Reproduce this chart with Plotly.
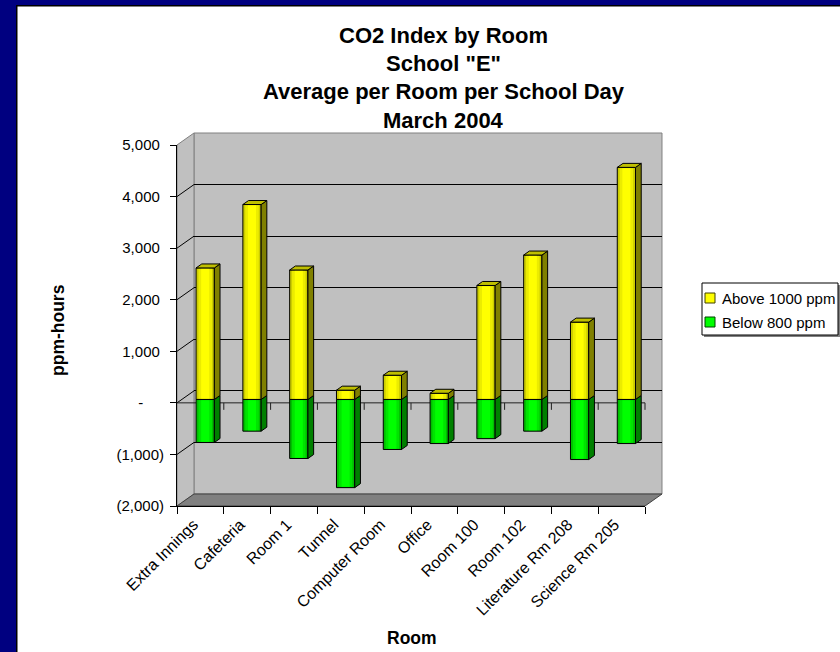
import plotly.graph_objects as go

# ---------------- data ----------------
rooms = ["Extra Innings", "Cafeteria", "Room 1", "Tunnel", "Computer Room",
         "Office", "Room 100", "Room 102", "Literature Rm 208", "Science Rm 205"]
above_1000 = [2550, 3780, 2510, 180, 470, 120, 2210, 2800, 1500, 4500]
below_800 = [-835, -615, -1145, -1710, -970, -855, -760, -615, -1165, -855]
series_names = ["Above 1000 ppm", "Below 800 ppm"]
y_tick_values = [-2000, -1000, 0, 1000, 2000, 3000, 4000, 5000]
y_tick_labels = ["(2,000)", "(1,000)", "-", "1,000", "2,000", "3,000", "4,000", "5,000"]
title_lines = ["CO2 Index by Room", 'School "E"', "Average per Room per School Day", "March 2004"]
x_title = "Room"
y_title = "ppm-hours"

# ---------------- geometry / style ----------------
W, H = 840, 652
FX0, FX1, FYT, FYB = 177, 645, 145, 506      # front plane (px)
BACK_DX, BACK_DY = 17, -12                   # back wall offset (px)
BAR_DX, BAR_DY = 4.8, -3.4                   # bar front-face offset (px)
Y_MIN, Y_MAX = -2000, 5000
FONT = "Liberation Sans, Arial, sans-serif"

YELLOW_SHADES = ["#CCCC00", "#ECEC00", "#FFFF00"]
GREEN_SHADES = ["#00BE00", "#00E400", "#00FF00"]
YELLOW_SIDE, YELLOW_TOP = "#808000", "#BFBF00"
GREEN_SIDE = "#008000"
WALL, FLOOR = "#C0C0C0", "#808080"
NAVY = "#000080"


def px(x):
    return x / W


def py(y):
    return 1 - y / H


def dom_x(d):
    return [px(FX0 + d), px(FX1 + d)]


def dom_y(d):
    return [py(FYB + d), py(FYT + d)]


def yfront(v):
    return FYB - (v - Y_MIN) / (Y_MAX - Y_MIN) * (FYB - FYT)


def path(points):
    s = "M" + " L".join(f"{px(a):.6f},{py(b):.6f}" for a, b in points) + " Z"
    return s


shapes = []
# navy slide frame (left + top)
shapes.append(dict(type="rect", xref="paper", yref="paper", x0=0, x1=px(16), y0=0, y1=1,
                   fillcolor=NAVY, line=dict(width=0), layer="above"))
shapes.append(dict(type="rect", xref="paper", yref="paper", x0=px(16), x1=px(17.5), y0=0, y1=py(5),
                   fillcolor="#000000", line=dict(width=0), layer="above"))
shapes.append(dict(type="rect", xref="paper", yref="paper", x0=0, x1=1, y0=py(5), y1=1,
                   fillcolor=NAVY, line=dict(width=0), layer="above"))
shapes.append(dict(type="rect", xref="paper", yref="paper", x0=px(16), x1=1, y0=py(6.5), y1=py(5),
                   fillcolor="#000000", line=dict(width=0), layer="above"))

# back wall
bx0, bx1 = FX0 + BACK_DX, FX1 + BACK_DX
byt, byb = FYT + BACK_DY, FYB + BACK_DY
shapes.append(dict(type="path", xref="paper", yref="paper",
                   path=path([(bx0, byt), (bx1, byt), (bx1, byb), (bx0, byb)]),
                   fillcolor=WALL, line=dict(color="#808080", width=1), layer="below"))
# side wall
shapes.append(dict(type="path", xref="paper", yref="paper",
                   path=path([(FX0, FYT), (bx0, byt), (bx0, byb), (FX0, FYB)]),
                   fillcolor=WALL, line=dict(color="#808080", width=1), layer="below"))
# floor
shapes.append(dict(type="path", xref="paper", yref="paper",
                   path=path([(FX0, FYB), (bx0, byb), (bx1, byb), (FX1, FYB)]),
                   fillcolor=FLOOR, line=dict(color="#404040", width=1), layer="below"))
# side wall gridlines
for v in y_tick_values[1:-1]:
    yf = yfront(v)
    shapes.append(dict(type="line", xref="paper", yref="paper",
                       x0=px(FX0), y0=py(yf), x1=px(bx0), y1=py(yf + BACK_DY),
                       line=dict(color="#000000", width=1), layer="below"))
# category axis line at zero with boundary ticks
y0f = yfront(0)
shapes.append(dict(type="line", xref="paper", yref="paper",
                   x0=px(FX0), y0=py(y0f), x1=px(FX1), y1=py(y0f),
                   line=dict(color="#202020", width=1), layer="below"))
step = (FX1 - FX0) / len(rooms)
for k in range(1, len(rooms) + 1):
    xx = FX0 + k * step
    shapes.append(dict(type="line", xref="paper", yref="paper",
                       x0=px(xx), y0=py(y0f), x1=px(xx), y1=py(y0f + 7),
                       line=dict(color="#202020", width=1), layer="below"))

# manual legend (box, shadow, swatches)
LX0, LY0, LX1, LY1 = 702, 283, 838, 335
shapes.append(dict(type="rect", xref="paper", yref="paper", x0=px(LX0 + 2), x1=px(LX1 + 2),
                   y0=py(LY1 + 2), y1=py(LY0 + 2), fillcolor="#808080", line=dict(width=0), layer="above"))
shapes.append(dict(type="rect", xref="paper", yref="paper", x0=px(LX0), x1=px(LX1),
                   y0=py(LY1), y1=py(LY0), fillcolor="#FFFFFF", line=dict(color="#000000", width=1),
                   layer="above"))
legend_rows = [(298, YELLOW_SHADES[2], "#404000"), (322, GREEN_SHADES[2], "#004000")]
for (yc, col, edge) in legend_rows:
    shapes.append(dict(type="rect", xref="paper", yref="paper", x0=px(705), x1=px(715),
                       y0=py(yc + 5), y1=py(yc - 5), fillcolor=col, line=dict(color=edge, width=1),
                       layer="above"))

annotations = []
title_y = [35, 63.5, 92, 120.5]
for t, yy in zip(title_lines, title_y):
    annotations.append(dict(text=t, x=px(443.7), y=py(yy), xref="paper", yref="paper",
                            xanchor="center", yanchor="middle", showarrow=False,
                            font=dict(family=FONT, size=22, color="#000000", weight="bold")))
annotations.append(dict(text=y_title, x=px(57.5), y=py(330.5), xref="paper", yref="paper",
                        xanchor="center", yanchor="middle", showarrow=False, textangle=-90,
                        font=dict(family=FONT, size=17.5, color="#000000", weight="bold")))
annotations.append(dict(text=x_title, x=px(411.6), y=py(638), xref="paper", yref="paper",
                        xanchor="center", yanchor="middle", showarrow=False,
                        font=dict(family=FONT, size=17.5, color="#000000", weight="bold")))
for (yc, _, _), name in zip(legend_rows, series_names):
    annotations.append(dict(text=name, x=px(720), y=py(yc), xref="paper", yref="paper",
                            xanchor="left", yanchor="middle", showarrow=False,
                            font=dict(family=FONT, size=15, color="#000000")))

# accounting-style tick label alignment
NB = "\u00a0"
ticktext = []
for lab in y_tick_labels:
    if lab.startswith("("):
        ticktext.append(lab)
    elif lab == "-":
        ticktext.append(lab + NB * 5)
    else:
        ticktext.append(lab + NB)

fig = go.Figure()
# front axes carrier
fig.add_trace(go.Scatter(x=rooms, y=[0] * len(rooms), xaxis="x", yaxis="y", mode="markers",
                         marker=dict(opacity=0), hoverinfo="skip", showlegend=False))
# back wall carrier
fig.add_trace(go.Scatter(x=[0], y=[0], xaxis="x2", yaxis="y2", mode="markers",
                         marker=dict(opacity=0), hoverinfo="skip", showlegend=False))

idx = list(range(len(rooms)))
BW = 0.39
HW = BW / 2
DXU = 5.7 / step
DYU = 4.0 / ((FYB - FYT) / (Y_MAX - Y_MIN))
EPS = 0.8 / ((FYB - FYT) / (Y_MAX - Y_MIN))   # ~1px inset for shading layers

# bar front faces (outlined base + inner shading layers)
for vals, shades, name in [(above_1000, YELLOW_SHADES, series_names[0]),
                           (below_800, GREEN_SHADES, series_names[1])]:
    fig.add_trace(go.Bar(x=idx, y=vals, width=BW, name=name, xaxis="x3", yaxis="y3",
                         marker=dict(color=shades[0], line=dict(color="#000000", width=1)),
                         customdata=rooms, hovertemplate="%{customdata}: %{y}<extra></extra>",
                         showlegend=False))
    sgn = [1 if v >= 0 else -1 for v in vals]
    inner_y = [v - 2 * EPS * s for v, s in zip(vals, sgn)]
    inner_base = [EPS * s for s in sgn]
    for wfrac, col in [(0.74, shades[1]), (0.44, shades[2])]:
        fig.add_trace(go.Bar(x=idx, y=inner_y, base=inner_base, width=BW * wfrac,
                             xaxis="x3", yaxis="y3", marker=dict(color=col, line=dict(width=0)),
                             hoverinfo="skip", showlegend=False))

# 3-D side / top faces derived from the same values
ys_x, ys_y, yt_x, yt_y, gs_x, gs_y = [], [], [], [], [], []
for c, v, n in zip(idx, above_1000, below_800):
    r = c + HW
    ys_x += [r, r + DXU, r + DXU, r, r, None]
    ys_y += [0, DYU, v + DYU, v, 0, None]
    yt_x += [c - HW, c - HW + DXU, r + DXU, r, c - HW, None]
    yt_y += [v, v + DYU, v + DYU, v, v, None]
    gs_x += [r, r + DXU, r + DXU, r, r, None]
    gs_y += [n, n + DYU, DYU, 0, n, None]

for xs, ys, col in [(gs_x, gs_y, GREEN_SIDE), (ys_x, ys_y, YELLOW_SIDE), (yt_x, yt_y, YELLOW_TOP)]:
    fig.add_trace(go.Scatter(x=xs, y=ys, xaxis="x3", yaxis="y3", mode="lines", fill="toself",
                             fillcolor=col, line=dict(color="#000000", width=1),
                             hoverinfo="skip", showlegend=False))

fig.update_layout(
    width=W, height=H,
    margin=dict(l=0, r=0, t=0, b=0, pad=0, autoexpand=False),
    paper_bgcolor="#FFFFFF",
    plot_bgcolor="rgba(0,0,0,0)",
    barmode="overlay",
    showlegend=False,
    font=dict(family=FONT, color="#000000"),
    xaxis=dict(domain=dom_x(0), anchor="y", type="category", categoryorder="array",
               categoryarray=rooms, range=[-0.5, len(rooms) - 0.5], tickson="boundaries",
               ticks="outside", ticklen=7, tickcolor="#000000", showline=True, linecolor="#000000",
               linewidth=1, tickangle=-45, tickfont=dict(family=FONT, size=16, color="#000000"),
               ticklabelshift=-7, ticklabelstandoff=2,
               showgrid=False, zeroline=False, fixedrange=True, automargin=False),
    yaxis=dict(domain=dom_y(0), anchor="x", range=[Y_MIN, Y_MAX], tickvals=y_tick_values,
               ticktext=ticktext, ticks="outside", ticklen=6, tickcolor="#000000",
               showline=True, linecolor="#000000", linewidth=1, showgrid=False, zeroline=False,
               tickfont=dict(family=FONT, size=15, color="#000000"), fixedrange=True,
               automargin=False, ticklabelstandoff=3),
    xaxis2=dict(domain=dom_x(BACK_DX), anchor="y2", range=[-0.5, len(rooms) - 0.5], visible=False,
                fixedrange=True),
    yaxis2=dict(domain=dom_y(BACK_DY), anchor="x2", range=[Y_MIN, Y_MAX],
                tickvals=y_tick_values[1:-1], showgrid=True, gridcolor="#000000", gridwidth=1,
                showticklabels=False, ticks="", showline=False, zeroline=False, fixedrange=True),
    xaxis3=dict(domain=dom_x(BAR_DX), anchor="y3", range=[-0.5, len(rooms) - 0.5], visible=False,
                fixedrange=True),
    yaxis3=dict(domain=dom_y(BAR_DY), anchor="x3", range=[Y_MIN, Y_MAX], visible=False,
                fixedrange=True),
    shapes=shapes,
    annotations=annotations,
)

fig.write_html("out.html", config={"displayModeBar": False},
               post_script="document.body.style.margin='0px';document.body.style.overflow='hidden';")
